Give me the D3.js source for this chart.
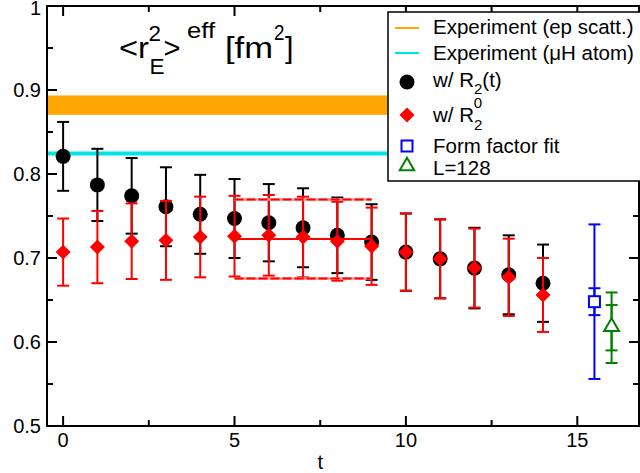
<!DOCTYPE html>
<html><head><meta charset="utf-8">
<script src="https://cdn.jsdelivr.net/npm/d3@7"></script>
<style>body{margin:0;background:#fff}svg{display:block;font-family:"Liberation Sans",Arial,sans-serif}</style>
</head><body><svg id="c" width="640" height="473"></svg>
<script>
// ---- data ----
const tValues = [0,1,2,3,4,5,6,7,8,9,10,11,12,13,14];
const r2tVal  = [0.821,0.787,0.774,0.761,0.752,0.747,0.742,0.736,0.727,0.719,0.707,0.699,0.688,0.680,0.670];
const r2tErr  = [0.041,0.043,0.045,0.047,0.047,0.047,0.046,0.047,0.045,0.045,0.046,0.047,0.048,0.047,0.046];
const r20Val  = [0.707,0.713,0.720,0.721,0.725,0.726,0.727,0.725,0.720,0.714,0.707,0.699,0.688,0.677,0.656];
const r20Err  = [0.040,0.043,0.045,0.047,0.048,0.048,0.048,0.048,0.047,0.046,0.046,0.047,0.047,0.046,0.044];
const fitRange = [5,9];
const fitCentral = 0.7225;
const fitBounds = [0.7695,0.6755]; // upper, lower
const epBand = [0.8705,0.8935];
const muHVal = 0.8245;
const ffT = 15.5, ffVal = 0.648, ffErrStat = 0.016, ffErrTot = 0.092;
const lT = 16.0, lVal = 0.617, lErrStat = 0.027, lErrTot = 0.042;
const xTicks = [0,5,10,15];
const yTicks = [0.5,0.6,0.7,0.8,0.9,1];
const yTickLabels = ["0.5","0.6","0.7","0.8","0.9","1"];
const legendLabels = ["Experiment (ep scatt.)","Experiment (\u03bcH atom)","w/ R","w/ R","Form factor fit","L=128"];

// ---- scales ----
const svg = d3.select("#c");
const L=47, R=639, T=6, B=426;
const x = d3.scaleLinear().domain([-0.47,16.8]).range([L,R]);
const y = d3.scaleLinear().domain([0.5,1]).range([B,T]);

// bands
svg.append("rect").attr("x",L).attr("width",R-L)
  .attr("y",y(epBand[1])).attr("height",y(epBand[0])-y(epBand[1])).attr("fill","#ffa500");
svg.append("line").attr("x1",L).attr("x2",R).attr("y1",y(muHVal)).attr("y2",y(muHVal))
  .attr("stroke","#00e5e5").attr("stroke-width",4);

function errbar(g, t, v, e, color, cap){
  g.append("line").attr("x1",x(t)).attr("x2",x(t)).attr("y1",y(v-e)).attr("y2",y(v+e))
    .attr("stroke",color).attr("stroke-width",2);
  [v-e,v+e].forEach(yy=>g.append("line").attr("x1",x(t)-cap).attr("x2",x(t)+cap)
    .attr("y1",y(yy)).attr("y2",y(yy)).attr("stroke",color).attr("stroke-width",2));
}
// black series
const gb = svg.append("g");
tValues.forEach((t,i)=>errbar(gb,t,r2tVal[i],r2tErr[i],"#000",6));
gb.selectAll("circle").data(tValues).join("circle")
  .attr("cx",d=>x(d)).attr("cy",(d,i)=>y(r2tVal[i])).attr("r",7.5).attr("fill","#000");
// red series
const gr = svg.append("g");
tValues.forEach((t,i)=>errbar(gr,t,r20Val[i],r20Err[i],"#ff0000",6));
gr.append("line").attr("x1",x(fitRange[0])).attr("x2",x(fitRange[1]))
  .attr("y1",y(fitCentral)).attr("y2",y(fitCentral)).attr("stroke","#ff0000").attr("stroke-width",2);
fitBounds.forEach(v=>{
  gr.append("line").attr("x1",x(fitRange[0])).attr("x2",x(fitRange[1]))
    .attr("y1",y(v)).attr("y2",y(v)).attr("stroke","#ff8c8c").attr("stroke-width",2.5);
  gr.append("line").attr("x1",x(fitRange[0])).attr("x2",x(fitRange[1]))
    .attr("y1",y(v)).attr("y2",y(v)).attr("stroke","#ff0000").attr("stroke-width",2)
    .attr("stroke-dasharray","9,3");
});
const diamond = d3.symbol().type(d3.symbolSquare).size(112);
gr.selectAll("path.d").data(tValues).join("path").attr("class","d")
  .attr("d",diamond()).attr("fill","#ff0000")
  .attr("transform",(d,i)=>`translate(${x(d)},${y(r20Val[i])}) rotate(45)`);
// form factor fit
const gf = svg.append("g");
errbar(gf,ffT,ffVal,ffErrTot,"#0000ff",6);
errbar(gf,ffT,ffVal,ffErrStat,"#0000ff",6);
gf.append("rect").attr("x",x(ffT)-5.5).attr("y",y(ffVal)-5.5).attr("width",11).attr("height",11)
  .attr("fill","#fff").attr("stroke","#0000ff").attr("stroke-width",2);
// L=128
const gl = svg.append("g");
errbar(gl,lT,lVal,lErrTot,"#008000",6);
errbar(gl,lT,lVal,lErrStat,"#008000",6);
gl.append("path").attr("d",d3.symbol().type(d3.symbolTriangle).size(95)())
  .attr("transform",`translate(${x(lT)},${y(lVal)-1})`)
  .attr("fill","#fff").attr("stroke","#008000").attr("stroke-width",2);

// axes
const ax = svg.append("g").attr("stroke","#000").attr("stroke-width",2).attr("fill","none");
ax.append("rect").attr("x",L).attr("y",T).attr("width",R-L).attr("height",B-T);
const xMinor = d3.range(0,16.8,2.5);
const yMinor = d3.range(0.5,1.001,0.05);
xMinor.forEach(v=>{
  const major = xTicks.includes(v), len = major?10:6;
  ax.append("line").attr("x1",x(v)).attr("x2",x(v)).attr("y1",B).attr("y2",B-len);
  ax.append("line").attr("x1",x(v)).attr("x2",x(v)).attr("y1",T).attr("y2",T+len);
});
yMinor.forEach((v,i)=>{
  const len = i%2===0?10:6;
  ax.append("line").attr("x1",L).attr("x2",L+len).attr("y1",y(v)).attr("y2",y(v));
  ax.append("line").attr("x1",R).attr("x2",R-len).attr("y1",y(v)).attr("y2",y(v));
});
svg.selectAll("text.xt").data(xTicks).join("text").attr("class","xt")
  .attr("x",d=>x(d)).attr("y",447).attr("text-anchor","middle").attr("font-size",20).text(d=>d);
svg.selectAll("text.yt").data(yTicks).join("text").attr("class","yt")
  .attr("x",L-6).attr("y",d=>Math.max(y(d)+7,15)).attr("text-anchor","end").attr("font-size",20)
  .text((d,i)=>yTickLabels[i]);
svg.append("text").attr("x",x(7.5)).attr("y",469).attr("text-anchor","middle").attr("font-size",20).text("t");

// title (pieces positioned explicitly)
const tg = svg.append("g");
const piece = (s,px,py,fsz,len)=>tg.append("text").attr("x",px).attr("y",py).attr("font-size",fsz)
  .attr("textLength",len).attr("lengthAdjust","spacingAndGlyphs").text(s);
piece("<r",119,58,30,30);
piece("2",148.5,41,22,12.5);
piece("E",149.5,74,22,15);
piece(">",163.5,58,30,17);
piece("eff",187,38,22,28);
piece("[fm",225,58,30,48);
piece("2",274,40,22,10.5);
piece("]",285,58,30,8.5);

// legend
const lg = svg.append("g");
lg.append("rect").attr("x",388).attr("y",12).attr("width",260).attr("height",169)
  .attr("fill","#fff").attr("stroke","#000").attr("stroke-width",1.5);
const tx = 433, fs = 20.5;
lg.append("line").attr("x1",395).attr("x2",419).attr("y1",28).attr("y2",28).attr("stroke","#ffa500").attr("stroke-width",2);
lg.append("text").attr("x",tx).attr("y",34).attr("font-size",fs).text(legendLabels[0]);
lg.append("line").attr("x1",395).attr("x2",419).attr("y1",53).attr("y2",53).attr("stroke","#00e5e5").attr("stroke-width",2);
lg.append("text").attr("x",tx).attr("y",60).attr("font-size",fs).text(legendLabels[1]);
lg.append("circle").attr("cx",407).attr("cy",82).attr("r",7.5).attr("fill","#000");
const t3 = lg.append("text").attr("x",tx).attr("y",87).attr("font-size",fs);
t3.append("tspan").text(legendLabels[2]);
t3.append("tspan").attr("font-size",15).attr("dy",7).text("2");
t3.append("tspan").attr("dy",-7).text("(t)");
lg.append("path").attr("d",d3.symbol().type(d3.symbolSquare).size(112)())
  .attr("transform","translate(407,115) rotate(45)").attr("fill","#ff0000");
const t4 = lg.append("text").attr("x",tx).attr("y",122).attr("font-size",fs);
t4.append("tspan").text(legendLabels[3]);
t4.append("tspan").attr("font-size",15).attr("dy",8).text("2");
t4.append("tspan").attr("font-size",15).attr("dx",-8.5).attr("dy",-22).text("0");
lg.append("rect").attr("x",401.5).attr("y",140.5).attr("width",11).attr("height",11)
  .attr("fill","#fff").attr("stroke","#0000ff").attr("stroke-width",2);
lg.append("text").attr("x",tx).attr("y",153).attr("font-size",fs).text(legendLabels[4]);
lg.append("path").attr("d",d3.symbol().type(d3.symbolTriangle).size(90)())
  .attr("transform","translate(407,166)").attr("fill","#fff").attr("stroke","#008000").attr("stroke-width",2);
lg.append("text").attr("x",tx).attr("y",175).attr("font-size",fs).text(legendLabels[5]);
</script></body></html>
